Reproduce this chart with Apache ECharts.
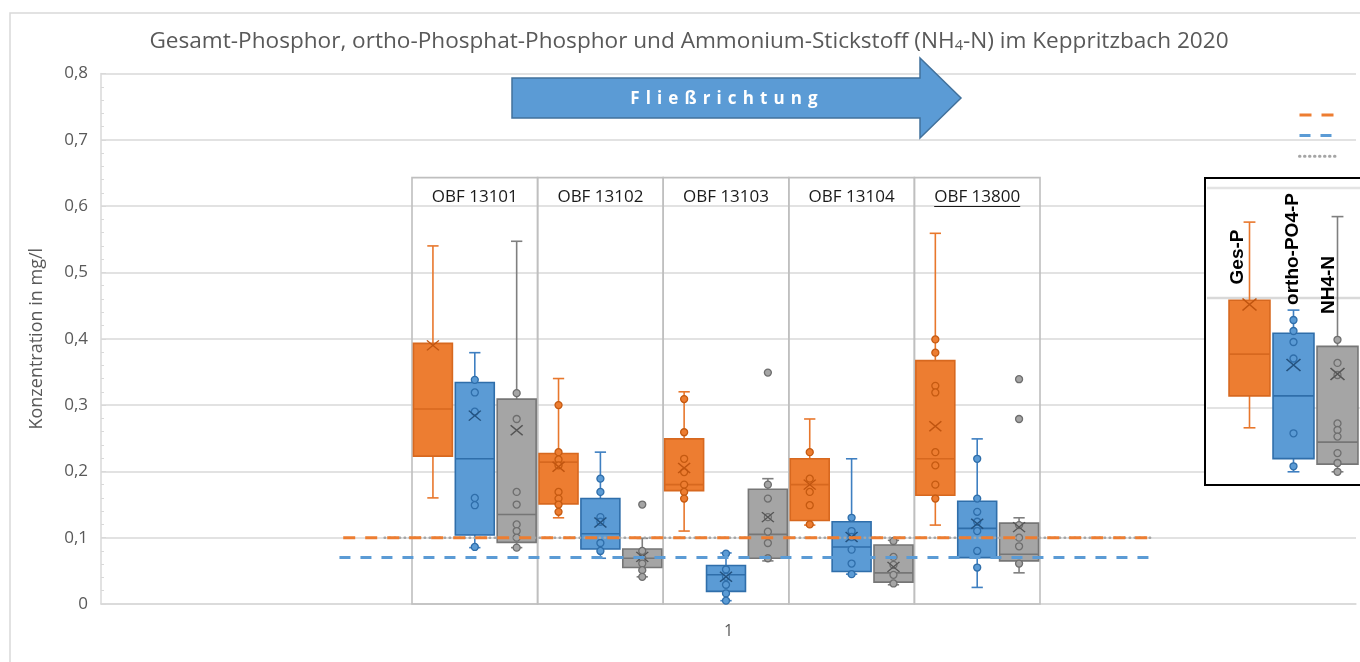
<!DOCTYPE html>
<html>
<head>
<meta charset="utf-8">
<script src="https://cdn.jsdelivr.net/npm/echarts@6/dist/echarts.min.js"></script>
<style>html,body{margin:0;padding:0;background:#fff;}#chart{width:1360px;height:662px;}</style>
</head>
<body>
<div id="chart"></div>
<script>
// ---------------- DATA ----------------
const xCategories = ['1'];
const stations = ['OBF 13101', 'OBF 13102', 'OBF 13103', 'OBF 13104', 'OBF 13800'];
const parameters = ['Ges-P', 'ortho-PO4-P', 'NH4-N'];
const yMin = 0, yMax = 0.8, yStep = 0.1;

// box statistics per station: [min, Q1, median, Q3, max]
const gesPBox = [
  [0.160, 0.223, 0.294, 0.393, 0.540],
  [0.130, 0.151, 0.214, 0.227, 0.340],
  [0.110, 0.171, 0.180, 0.249, 0.320],
  [0.119, 0.126, 0.180, 0.219, 0.279],
  [0.119, 0.164, 0.219, 0.367, 0.559]
];
const orthoBox = [
  [0.085, 0.104, 0.219, 0.334, 0.379],
  [0.069, 0.083, 0.106, 0.159, 0.229],
  [0.005, 0.019, 0.044, 0.058, 0.077],
  [0.045, 0.049, 0.086, 0.124, 0.219],
  [0.025, 0.070, 0.114, 0.155, 0.249]
];
const nh4Box = [
  [0.085, 0.093, 0.135, 0.309, 0.547],
  [0.041, 0.055, 0.069, 0.083, 0.099],
  [0.065, 0.069, 0.105, 0.173, 0.189],
  [0.029, 0.033, 0.047, 0.089, 0.096],
  [0.047, 0.065, 0.075, 0.122, 0.130]
];
// mean values (X markers)
const gesPMean  = [0.390, 0.207, 0.205, 0.180, 0.268];
const orthoMean = [0.284, 0.123, 0.041, 0.101, 0.121];
const nh4Mean   = [0.262, 0.071, 0.131, 0.056, 0.116];
// single values shown as points
const gesPPoints = [
  [],
  [0.300, 0.229, 0.218, 0.209, 0.169, 0.159, 0.150, 0.139],
  [0.309, 0.259, 0.219, 0.199, 0.180, 0.169, 0.159],
  [0.229, 0.189, 0.169, 0.149, 0.120],
  [0.399, 0.379, 0.329, 0.319, 0.229, 0.209, 0.180, 0.159]
];
const orthoPoints = [
  [0.338, 0.319, 0.290, 0.160, 0.149, 0.086],
  [0.189, 0.169, 0.131, 0.124, 0.092, 0.080],
  [0.076, 0.052, 0.041, 0.029, 0.016, 0.005],
  [0.130, 0.110, 0.101, 0.082, 0.061, 0.045],
  [0.219, 0.159, 0.139, 0.124, 0.110, 0.080, 0.055]
];
const nh4Points = [
  [0.318, 0.279, 0.169, 0.150, 0.120, 0.110, 0.100, 0.085],
  [0.080, 0.069, 0.061, 0.051, 0.041],
  [0.180, 0.159, 0.131, 0.109, 0.092, 0.069],
  [0.095, 0.071, 0.059, 0.044, 0.031],
  [0.119, 0.100, 0.087, 0.061]
];
// outliers
const gesPOutliers  = [[], [], [], [], []];
const orthoOutliers = [[], [], [], [], []];
const nh4Outliers   = [[], [0.150], [0.349], [], [0.339, 0.279]];

// threshold lines (Orientierungswerte)
const thresholdNames  = ['Orientierungswert Ges-P', 'Orientierungswert ortho-PO4-P', 'Orientierungswert NH4-N'];
const thresholdValues = [0.10, 0.07, 0.10];

// inset legend picture (own scale)
const insetBox = [
  [0.082, 0.111, 0.149, 0.198, 0.269],
  [0.042, 0.054, 0.111, 0.168, 0.189],
  [0.042, 0.049, 0.069, 0.156, 0.274]
];
const insetMean = [0.194, 0.139, 0.131];
const insetPoints = [
  [],
  [0.180, 0.170, 0.160, 0.145, 0.077, 0.047],
  [0.162, 0.141, 0.130, 0.086, 0.080, 0.074, 0.059, 0.050, 0.042]
];

// ---------------- LAYOUT / STYLE ----------------
const FONT = '"Open Sans", "Liberation Sans", sans-serif';
const TXT = '#595959';
const GRIDC = '#D9D9D9';
const STYLE = [
  { fill: '#ED7D31', border: '#D7681F', whisker: '#E8772C', pointBorder: '#C55A11', mean: '#C05510' },
  { fill: '#5B9BD5', border: '#2F6EAA', whisker: '#3E7FC1', pointBorder: '#2F6EAA', mean: '#24527F' },
  { fill: '#A5A5A5', border: '#767676', whisker: '#7F7F7F', pointBorder: '#6E6E6E', mean: '#555555' }
];
const LINESTYLE = [
  { color: '#ED7D31', width: 3, type: [12, 10], cap: 'butt' },
  { color: '#5B9BD5', width: 3, type: [11, 10], cap: 'butt' },
  { color: '#A5A5A5', width: 2.5, type: [0.5, 4.5], cap: 'round' }
];
const thresholdSpan = [[0.193, 0.836], [0.190, 0.836], [0.226, 0.836]]; // along hidden 0..1 axis
const FRAME_TOP = 0.643, FRAME_LABEL = 0.613;
const underlined = [false, false, false, false, true];
const BOX_RATIO = 0.93, CAP_RATIO = 0.29;
const INSET_FONT = 'bold 19px "Liberation Sans", Arial, sans-serif';

// ---------------- BUILD ----------------
const boxCats = [];
stations.forEach(s => parameters.forEach(p => boxCats.push(s + ' ' + p)));

const allBox = [gesPBox, orthoBox, nh4Box];
const allMean = [gesPMean, orthoMean, nh4Mean];
const allPoints = [gesPPoints, orthoPoints, nh4Points];
const allOutliers = [gesPOutliers, orthoOutliers, nh4Outliers];

function boxRenderer(st) {
  return function (params, api) {
    const c = api.value(0);
    const band = api.size([1, 0])[0];
    const bw = band * BOX_RATIO;
    const cap = bw * CAP_RATIO;
    const pt = i => api.coord([c, api.value(i)]);
    const cx = pt(3)[0];
    const yLo = pt(1)[1], yQ1 = pt(2)[1], yMed = pt(3)[1], yQ3 = pt(4)[1], yHi = pt(5)[1];
    const x0 = cx - bw / 2;
    const wl = { stroke: st.whisker, lineWidth: 1.6 };
    return {
      type: 'group',
      children: [
        { type: 'line', shape: { x1: cx, y1: yQ3, x2: cx, y2: yHi }, style: wl },
        { type: 'line', shape: { x1: cx, y1: yQ1, x2: cx, y2: yLo }, style: wl },
        { type: 'line', shape: { x1: cx - cap / 2, y1: yHi, x2: cx + cap / 2, y2: yHi }, style: wl },
        { type: 'line', shape: { x1: cx - cap / 2, y1: yLo, x2: cx + cap / 2, y2: yLo }, style: wl },
        { type: 'rect', shape: { x: x0, y: yQ3, width: bw, height: yQ1 - yQ3 }, style: { fill: st.fill, stroke: st.border, lineWidth: 1.6 } },
        { type: 'line', shape: { x1: x0, y1: yMed, x2: x0 + bw, y2: yMed }, style: { stroke: st.border, lineWidth: 1.6 } }
      ]
    };
  };
}

const measureCtx = document.createElement('canvas').getContext('2d');
function textWidth(t, font) { measureCtx.font = font; return measureCtx.measureText(t).width; }
const frameFont = '17px ' + FONT;

const series = [];

// threshold lines in grid 0
[2, 0, 1].forEach(k => {
  series.push({
    name: thresholdNames[k], type: 'line', xAxisIndex: 1, yAxisIndex: 0,
    data: [[thresholdSpan[k][0], thresholdValues[k]], [thresholdSpan[k][1], thresholdValues[k]]],
    symbol: 'none', lineStyle: LINESTYLE[k], itemStyle: { color: LINESTYLE[k].color },
    z: 6, silent: true, animation: false
  });
});

// station frames
series.push({
  type: 'custom', xAxisIndex: 2, yAxisIndex: 1, silent: true, z: 1,
  data: stations.map((s, i) => [i * 3, i * 3 + 2, i]),
  encode: { x: [0, 1] },
  renderItem: function (params, api) {
    const i = api.value(2);
    const band = api.size([1, 0])[0];
    const left = api.coord([api.value(0), 0])[0] - band / 2;
    const right = api.coord([api.value(1), 0])[0] + band / 2;
    const bottom = api.coord([api.value(0), 0])[1];
    const top = api.coord([api.value(0), FRAME_TOP])[1];
    const ly = api.coord([api.value(0), FRAME_LABEL])[1];
    const cx = (left + right) / 2;
    const ch = [
      { type: 'rect', shape: { x: left, y: top, width: right - left, height: bottom - top }, style: { fill: 'none', stroke: '#BFBFBF', lineWidth: 1.6 } },
      { type: 'text', style: { text: stations[i], x: cx, y: ly, align: 'center', verticalAlign: 'middle', font: frameFont, fill: '#1A1A1A' } }
    ];
    if (underlined[i]) {
      const w = textWidth(stations[i], frameFont);
      ch.push({ type: 'line', shape: { x1: cx - w / 2, y1: ly + 9, x2: cx + w / 2, y2: ly + 9 }, style: { stroke: '#1A1A1A', lineWidth: 1.2 } });
    }
    return { type: 'group', children: ch };
  }
});

// boxes, points, means in grid 1
for (let k = 0; k < 3; k++) {
  const st = STYLE[k];
  series.push({
    name: parameters[k], type: 'custom', xAxisIndex: 2, yAxisIndex: 1, z: 3, silent: true,
    data: stations.map((s, i) => [i * 3 + k].concat(allBox[k][i])),
    encode: { x: 0, y: [1, 2, 3, 4, 5] },
    renderItem: boxRenderer(st)
  });
  const pts = [];
  stations.forEach((s, i) => {
    allPoints[k][i].forEach(v => pts.push([i * 3 + k, v]));
    allOutliers[k][i].forEach(v => pts.push([i * 3 + k, v]));
  });
  series.push({
    type: 'scatter', xAxisIndex: 2, yAxisIndex: 1, z: 4, silent: true,
    data: pts, symbol: 'circle', symbolSize: 7,
    itemStyle: { color: st.fill, borderColor: st.pointBorder, borderWidth: 1.3, opacity: 1 }
  });
  series.push({
    type: 'scatter', xAxisIndex: 2, yAxisIndex: 1, z: 5, silent: true,
    data: stations.map((s, i) => [i * 3 + k, allMean[k][i]]),
    symbol: 'path://M0,0L12,10M12,0L0,10', symbolSize: [12, 10],
    itemStyle: { color: 'rgba(0,0,0,0)', borderColor: st.mean, borderWidth: 1.4, opacity: 1 }
  });
}

// inset legend picture (grid 2)
for (let k = 0; k < 3; k++) {
  const st = STYLE[k];
  series.push({
    type: 'custom', xAxisIndex: 3, yAxisIndex: 2, z: 8, silent: true,
    data: [[k].concat(insetBox[k])],
    encode: { x: 0, y: [1, 2, 3, 4, 5] },
    renderItem: boxRenderer(st)
  });
  series.push({
    type: 'scatter', xAxisIndex: 3, yAxisIndex: 2, z: 9, silent: true,
    data: insetPoints[k].map(v => [k, v]), symbol: 'circle', symbolSize: 7,
    itemStyle: { color: st.fill, borderColor: st.pointBorder, borderWidth: 1.3, opacity: 1 }
  });
  series.push({
    type: 'scatter', xAxisIndex: 3, yAxisIndex: 2, z: 9, silent: true,
    data: [[k, insetMean[k]]],
    symbol: 'path://M0,0L12,10M12,0L0,10', symbolSize: [14, 12],
    itemStyle: { color: 'rgba(0,0,0,0)', borderColor: st.mean, borderWidth: 1.5, opacity: 1 }
  });
}

const arrowText = 'Fließrichtung'.split('').join(' \u200A');

const option = {
  backgroundColor: '#ffffff',
  animation: false,
  title: {
    text: 'Gesamt-Phosphor, ortho-Phosphat-Phosphor und Ammonium-Stickstoff (NH{sub|4}-N) im Keppritzbach 2020',
    left: 684, textAlign: 'center', top: 25,
    textStyle: {
      fontFamily: FONT, fontSize: 22.6, fontWeight: 'normal', color: TXT,
      rich: { sub: { fontFamily: FONT, fontSize: 14.5, color: TXT, verticalAlign: 'bottom', padding: [6, 0, 0, 0] } }
    }
  },
  legend: {
    orient: 'vertical', left: 1293, top: 103, itemWidth: 38, itemHeight: 14, itemGap: 8,
    selectedMode: false, formatter: () => '',
    itemStyle: { color: 'rgba(0,0,0,0)', borderWidth: 0, opacity: 0 },
    lineStyle: { width: 3 },
    data: [thresholdNames[0], thresholdNames[1], thresholdNames[2]]
  },
  grid: [
    { left: 101, right: 4, top: 73.5, height: 530.5 },
    { left: 412, width: 628, top: 73.5, height: 530.5 },
    { left: 1227.5, width: 132, top: 188, height: 330 }
  ],
  xAxis: [
    { type: 'category', gridIndex: 0, data: xCategories,
      axisLine: { show: true, lineStyle: { color: GRIDC, width: 1.5 } }, axisTick: { show: false },
      axisLabel: { color: TXT, fontFamily: FONT, fontSize: 16, margin: 19 } },
    { type: 'value', gridIndex: 0, min: 0, max: 1, show: false },
    { type: 'category', gridIndex: 1, data: boxCats, show: false },
    { type: 'category', gridIndex: 2, data: parameters, show: false }
  ],
  yAxis: [
    { type: 'value', gridIndex: 0, min: yMin, max: yMax, interval: yStep,
      name: 'Konzentration in mg/l', nameLocation: 'middle', nameGap: 55,
      nameTextStyle: { color: TXT, fontFamily: FONT, fontSize: 18 },
      axisLine: { show: true, lineStyle: { color: GRIDC, width: 1.5 } },
      axisTick: { show: true, inside: true, length: 5, lineStyle: { color: GRIDC } },
      minorTick: { show: true, splitNumber: 5, length: 3, lineStyle: { color: GRIDC } },
      splitLine: { lineStyle: { color: GRIDC, width: 1.5 } },
      axisLabel: { color: TXT, fontFamily: FONT, fontSize: 17, margin: 13,
        formatter: v => (v === 0 ? '0' : v.toFixed(1).replace('.', ',')) } },
    { type: 'value', gridIndex: 1, min: yMin, max: yMax, show: false },
    { type: 'value', gridIndex: 2, min: 0, max: 0.3, show: false }
  ],
  graphic: [
    { type: 'rect', z: 0, silent: true, shape: { x: 10, y: 13, width: 1400, height: 700 }, style: { fill: 'none', stroke: GRIDC, lineWidth: 1.5 } },
    { type: 'polygon', z: 7, silent: true,
      shape: { points: [[512, 78], [920, 78], [920, 58], [961, 98], [920, 138], [920, 118], [512, 118]] },
      style: { fill: '#5B9BD5', stroke: '#41719C', lineWidth: 1.5 } },
    { type: 'text', z: 8, silent: true, x: 724, y: 99,
      style: { text: arrowText, align: 'center', verticalAlign: 'middle', font: 'bold 17px ' + FONT, fill: '#ffffff' } },
    { type: 'rect', z: 1, silent: true, shape: { x: 1205, y: 178, width: 200, height: 307 }, style: { fill: '#ffffff', stroke: '#000000', lineWidth: 2 } },
    { type: 'line', z: 1, silent: true, shape: { x1: 1207, y1: 188, x2: 1360, y2: 188 }, style: { stroke: '#E3E3E3', lineWidth: 2.5 } },
    { type: 'line', z: 1, silent: true, shape: { x1: 1207, y1: 298, x2: 1360, y2: 298 }, style: { stroke: '#D9D9D9', lineWidth: 2.5 } },
    { type: 'line', z: 1, silent: true, shape: { x1: 1207, y1: 408, x2: 1360, y2: 408 }, style: { stroke: '#E3E3E3', lineWidth: 2 } },
    { type: 'text', z: 10, silent: true, x: 1238, y: 257, rotation: Math.PI / 2,
      style: { text: parameters[0], align: 'center', verticalAlign: 'middle', font: INSET_FONT, fill: '#000' } },
    { type: 'text', z: 10, silent: true, x: 1293, y: 249, rotation: Math.PI / 2,
      style: { text: parameters[1], align: 'center', verticalAlign: 'middle', font: INSET_FONT, fill: '#000' } },
    { type: 'text', z: 10, silent: true, x: 1329, y: 285, rotation: Math.PI / 2,
      style: { text: parameters[2], align: 'center', verticalAlign: 'middle', font: INSET_FONT, fill: '#000' } }
  ],
  series: series
};

const chart = echarts.init(document.getElementById('chart'), null, { renderer: 'canvas' });
chart.setOption(option);
</script>
</body>
</html>
